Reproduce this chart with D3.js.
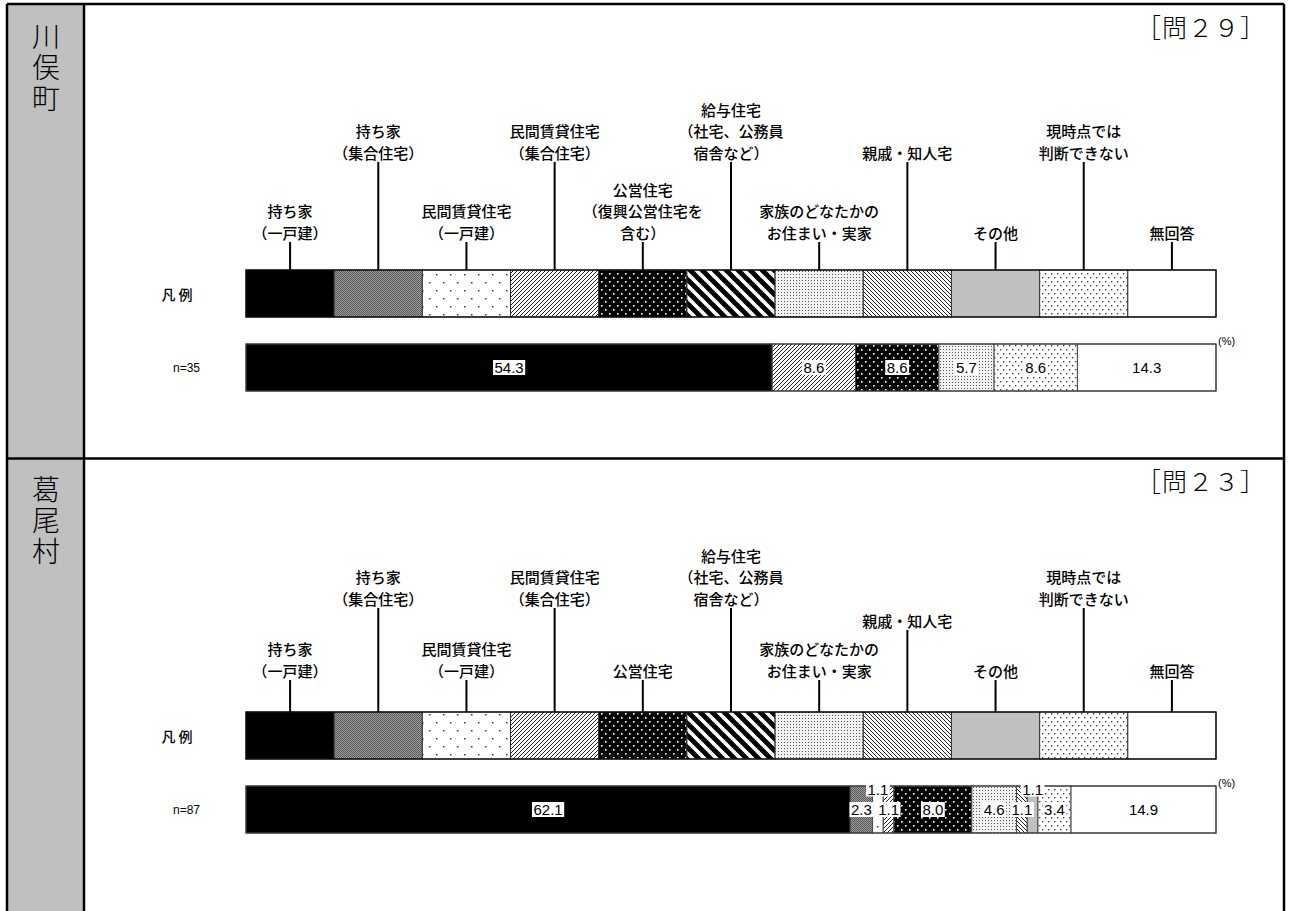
<!DOCTYPE html>
<html><head><meta charset="utf-8">
<script src="https://cdn.jsdelivr.net/npm/d3@7"></script>
<style>
html,body{margin:0;padding:0;background:#fff;}
svg{display:block;}
</style></head>
<body>
<svg id="chart" width="1291" height="911"></svg>
<script>
// ---------- data ----------
const municipalities = ["川俣町", "葛尾村"];
const questionLabels = ["［問２９］", "［問２３］"];
const sampleLabels = ["n=35", "n=87"];
const legendTitle = "凡 例";
const categoryKeys = ["own_house","own_apt","rent_house","rent_apt","public","company","family","relative","other","undecided","noanswer"];
const legendLabels1 = [["持ち家","（一戸建）"],["持ち家","（集合住宅）"],["民間賃貸住宅","（一戸建）"],["民間賃貸住宅","（集合住宅）"],["公営住宅","（復興公営住宅を","含む）"],["給与住宅","（社宅、公務員","宿舎など）"],["家族のどなたかの","お住まい・実家"],["親戚・知人宅"],["その他"],["現時点では","判断できない"],["無回答"]];
const legendLabels2 = [["持ち家","（一戸建）"],["持ち家","（集合住宅）"],["民間賃貸住宅","（一戸建）"],["民間賃貸住宅","（集合住宅）"],["公営住宅"],["給与住宅","（社宅、公務員","宿舎など）"],["家族のどなたかの","お住まい・実家"],["親戚・知人宅"],["その他"],["現時点では","判断できない"],["無回答"]];
// label tier of each category name (0 = lowest)
const labelTiers1 = [0, 1, 0, 1, 0, 1, 0, 1, 0, 1, 0];
const labelTiers2 = [0, 2, 0, 2, 0, 2, 0, 1, 0, 2, 0];
const values1 = [54.3, 0, 0, 8.6, 8.6, 0, 5.7, 0, 0, 8.6, 14.3];
const values2 = [62.1, 2.3, 1.1, 1.1, 8.0, 0, 4.6, 1.1, 1.1, 3.4, 14.9];

// ---------- layout ----------
const svg = d3.select("#chart");
const defs = svg.append("defs");
const JP = "'Noto Sans CJK JP','Noto Sans CJK SC',sans-serif";
const NUM = "'Liberation Sans Narrow','Liberation Sans',Arial,sans-serif";

function pat(id, w, h, draw, bg) {
  const p = defs.append("pattern").attr("id", id).attr("patternUnits", "userSpaceOnUse")
    .attr("width", w).attr("height", h);
  p.append("rect").attr("width", w).attr("height", h).attr("fill", bg || "#fff");
  draw(p);
}
const fills = [];
fills[0] = "#000";
pat("p1", 2, 2, p => {
  p.append("rect").attr("x",0).attr("y",0).attr("width",1).attr("height",1).attr("fill","#5a5a5a").attr("shape-rendering","crispEdges");
  p.append("rect").attr("x",1).attr("y",1).attr("width",1).attr("height",1).attr("fill","#5a5a5a").attr("shape-rendering","crispEdges");
}, "#9c9c9c");
fills[1] = "url(#p1)";
pat("p2", 14, 16, p => {
  p.append("rect").attr("x",2).attr("y",2).attr("width",1.5).attr("height",1.5).attr("fill","#333");
  p.append("rect").attr("x",9).attr("y",10).attr("width",1.5).attr("height",1.5).attr("fill","#333");
});
fills[2] = "url(#p2)";
pat("p3", 4, 4, p => {
  p.append("path").attr("d","M-1,1 L1,-1 M0,4 L4,0 M3,5 L5,3").attr("stroke","#222").attr("stroke-width",1);
});
fills[3] = "url(#p3)";
pat("p4", 8, 8, p => {
  p.append("rect").attr("x",1).attr("y",1).attr("width",1.6).attr("height",1.6).attr("fill","#fff");
  p.append("rect").attr("x",5).attr("y",5).attr("width",1.6).attr("height",1.6).attr("fill","#fff");
}, "#000");
fills[4] = "url(#p4)";
pat("p5", 12, 12, p => {
  p.append("path").attr("d","M-3,-3 L15,15 M-3,9 L3,15 M9,-3 L15,3").attr("stroke","#000").attr("stroke-width",4.8);
});
fills[5] = "url(#p5)";
pat("p6", 3, 3, p => {
  p.append("rect").attr("x",1).attr("y",1).attr("width",1).attr("height",1).attr("fill","#555");
}, "#f2f2f2");
fills[6] = "url(#p6)";
pat("p7", 4, 4, p => {
  p.append("path").attr("d","M-1,3 L1,5 M0,0 L4,4 M3,-1 L5,1").attr("stroke","#222").attr("stroke-width",1);
});
fills[7] = "url(#p7)";
fills[8] = "#c0c0c0";
pat("p9", 6, 8, p => {
  p.append("rect").attr("x",1).attr("y",1).attr("width",1.4).attr("height",1.4).attr("fill","#444");
  p.append("rect").attr("x",4).attr("y",5).attr("width",1.4).attr("height",1.4).attr("fill","#444");
});
fills[9] = "url(#p9)";
fills[10] = "#fff";

const frameLeft = 7, frameRight = 1284, colRight = 84;
svg.append("rect").attr("x", frameLeft).attr("y", 4).attr("width", colRight - frameLeft).attr("height", 911)
  .attr("fill", "#c0c0c0");

const barX0 = 246, barX1 = 1216, barH = 47;
const legendTops = [270, 712];
const dataGap = 74;
const tierY = [[232, 152], [670, 620, 598]];
const leftTextTop = [22, 475];
const titleY = [26, 480];

const legendX = d3.scaleLinear().domain([0, categoryKeys.length]).range([barX0, barX1]);

const panels = [
  { name: municipalities[0], q: questionLabels[0], n: sampleLabels[0], labels: legendLabels1, tiers: labelTiers1, values: values1 },
  { name: municipalities[1], q: questionLabels[1], n: sampleLabels[1], labels: legendLabels2, tiers: labelTiers2, values: values2 }
];

panels.forEach((pd, pi) => {
  const g = svg.append("g");
  g.append("text").attr("x", 46).attr("y", leftTextTop[pi])
    .style("writing-mode", "vertical-rl").attr("text-anchor", "start")
    .attr("font-family", JP).attr("font-size", 28).attr("font-weight", 300)
    .attr("letter-spacing", 3).attr("fill", "#000").text(pd.name);
  g.append("text").attr("x", 1266).attr("y", titleY[pi]).attr("text-anchor", "end")
    .attr("dominant-baseline", "central").attr("font-family", JP).attr("font-size", 25)
    .attr("letter-spacing", 1).attr("font-weight", 300).text(pd.q);

  const ly = legendTops[pi];
  const dy = ly + dataGap;
  pd.labels.forEach((lines, i) => {
    const cx = legendX(i + 0.5);
    const lastY = tierY[pi][pd.tiers[i]];
    lines.forEach((t, k) => {
      g.append("text").attr("x", cx).attr("y", lastY - (lines.length - 1 - k) * 21.5)
        .attr("text-anchor", "middle").attr("dominant-baseline", "central")
        .attr("font-family", JP).attr("font-size", 15).attr("font-weight", 500).attr("fill", "#000").text(t);
    });
    g.append("line").attr("x1", cx).attr("x2", cx).attr("y1", lastY + 10).attr("y2", ly)
      .attr("stroke", "#000").attr("stroke-width", 2);
  });
  g.selectAll("rect.leg").data(categoryKeys).enter().append("rect").attr("class", "leg")
    .attr("x", (d, i) => legendX(i)).attr("y", ly)
    .attr("width", (d, i) => legendX(i + 1) - legendX(i)).attr("height", barH)
    .attr("fill", (d, i) => fills[i]).attr("stroke", "#333").attr("stroke-width", 1);
  g.append("rect").attr("x", barX0).attr("y", ly).attr("width", barX1 - barX0).attr("height", barH)
    .attr("fill", "none").attr("stroke", "#000").attr("stroke-width", 1.2);
  g.append("text").attr("x", 177).attr("y", ly + barH / 2).attr("text-anchor", "middle")
    .attr("dominant-baseline", "central").attr("font-family", JP).attr("font-size", 14).attr("font-weight", 500).text(legendTitle);

  const total = d3.sum(pd.values);
  const x = d3.scaleLinear().domain([0, total]).range([barX0, barX1]);
  let acc = 0;
  const segs = pd.values.map((v, i) => { const s = { i, v, x0: acc, x1: acc + v }; acc += v; return s; });
  const nz = segs.filter(s => s.v > 0);
  g.selectAll("rect.seg").data(nz).enter().append("rect").attr("class", "seg")
    .attr("x", s => x(s.x0)).attr("y", dy).attr("width", s => x(s.x1) - x(s.x0)).attr("height", barH)
    .attr("fill", s => fills[s.i]).attr("stroke", "#444").attr("stroke-width", 1);
  g.append("rect").attr("x", barX0).attr("y", dy).attr("width", barX1 - barX0).attr("height", barH)
    .attr("fill", "none").attr("stroke", "#333").attr("stroke-width", 1);
  g.append("text").attr("x", 200).attr("y", dy + barH / 2).attr("text-anchor", "end")
    .attr("dominant-baseline", "central").attr("font-family", "'Liberation Sans',Arial,sans-serif")
    .attr("font-size", 12).text(pd.n);
  g.append("text").attr("x", 1218).attr("y", dy - 3).attr("text-anchor", "start")
    .attr("dominant-baseline", "central").attr("font-family", "'Liberation Sans',Arial,sans-serif")
    .attr("font-size", 11).text("(%)");

  let prevInsideNarrow = false;
  nz.forEach(s => {
    const narrow = s.v < 3;
    let up = false;
    if (narrow && s.v < 2 && prevInsideNarrow) up = true;
    prevInsideNarrow = narrow && !up;
    const cx = (x(s.x0) + x(s.x1)) / 2;
    const cy = up ? dy + 3 : dy + barH / 2;
    const t = g.append("text").attr("x", cx).attr("y", cy).attr("text-anchor", "middle")
      .attr("dominant-baseline", "central").attr("font-family", NUM).attr("font-size", 15)
      .attr("fill", "#000").text(d3.format(".1f")(s.v));
    const bb = t.node().getBBox();
    g.insert("rect", () => t.node()).attr("x", bb.x - 1.5).attr("y", bb.y + 1).attr("width", bb.width + 3)
      .attr("height", bb.height - 2).attr("fill", "#fff");
  });
});

const fr = svg.append("g").attr("stroke", "#000").attr("stroke-width", 2.5).attr("fill", "none");
fr.append("line").attr("x1", frameLeft).attr("x2", frameRight).attr("y1", 4).attr("y2", 4);
fr.append("line").attr("x1", frameLeft).attr("x2", frameLeft).attr("y1", 4).attr("y2", 911);
fr.append("line").attr("x1", frameRight).attr("x2", frameRight).attr("y1", 4).attr("y2", 911);
fr.append("line").attr("x1", colRight).attr("x2", colRight).attr("y1", 4).attr("y2", 911);
fr.append("line").attr("x1", frameLeft).attr("x2", frameRight).attr("y1", 458.5).attr("y2", 458.5);
</script>
</body></html>
